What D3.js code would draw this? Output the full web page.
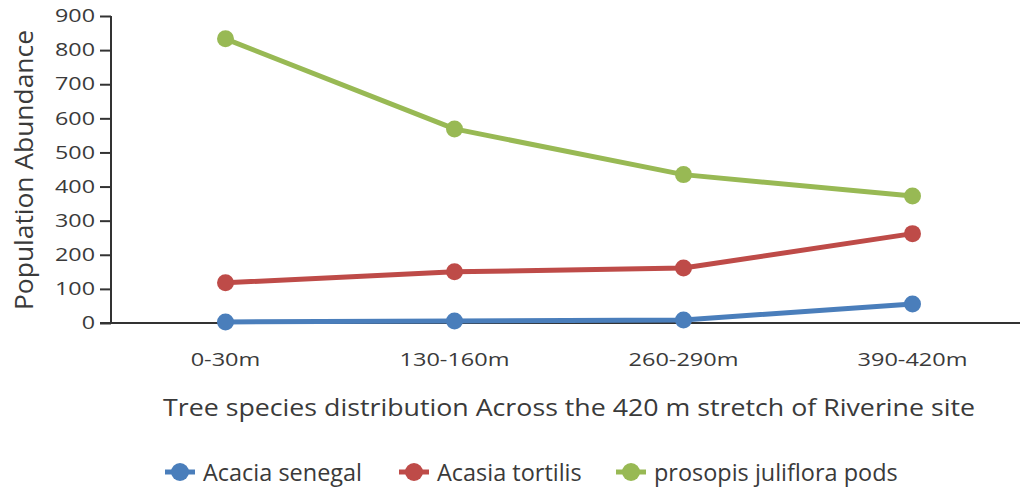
<!DOCTYPE html>
<html><head><meta charset="utf-8">
<script src="https://cdn.jsdelivr.net/npm/d3@7"></script>
<style>body{margin:0;background:#fff}svg{display:block}text{font-family:"Open Sans","DejaVu Sans",sans-serif;fill:#3a3a3a}</style>
</head><body><svg id="c" width="1020" height="491"></svg>
<script>
const categories = ["0-30m","130-160m","260-290m","390-420m"];
const seriesNames = ["Acacia senegal","Acasia tortilis","prosopis juliflora pods"];
const acaciaSenegal = [3, 6, 9, 56];
const acasiaTortilis = [118, 150, 161, 262];
const prosopisJuliflora = [833, 569, 435, 372];
const yTicks = [0,100,200,300,400,500,600,700,800,900];
const colors = ["#4a7ebb","#be4b48","#98b954"];

const svg = d3.select("#c");
const x = d3.scaleBand().domain(categories).range([111, 1027]);
const y = d3.scaleLinear().domain([0, 900]).range([323, 16]);

// stretch text horizontally so a reference string reaches a target width
function stretch(sel, refText, refWidth) {
  const nodes = sel.nodes();
  if (!nodes.length) return;
  const probe = svg.append("text").style("font-size", nodes[0].style.fontSize).text(refText);
  const f = refWidth / probe.node().getComputedTextLength();
  probe.remove();
  nodes.forEach(n => {
    const L = n.getComputedTextLength();
    n.setAttribute("textLength", L * f);
    n.setAttribute("lengthAdjust", "spacingAndGlyphs");
  });
}

const yAxis = svg.append("g").attr("transform","translate(111,0)")
  .call(d3.axisLeft(y).tickValues(yTicks).tickSize(11).tickPadding(5));
yAxis.select(".domain").attr("stroke","#333").attr("stroke-width",2).attr("d","M0,16V324");
yAxis.selectAll(".tick line").attr("stroke","#333").attr("stroke-width",2);
yAxis.selectAll("text").style("font-size","18px").attr("fill","#3a3a3a").attr("font-family",null);
stretch(yAxis.selectAll("text"), "900", 40);

const xAxis = svg.append("g").attr("transform","translate(0,323)")
  .call(d3.axisBottom(x).tickSize(0).tickPadding(24));
xAxis.select(".domain").attr("stroke","#333").attr("stroke-width",2).attr("d","M100,0H1027");
xAxis.selectAll("text").style("font-size","18px").attr("fill","#3a3a3a").attr("font-family",null).attr("dy","0.71em");
xAxis.selectAll("text").attr("y",30);
stretch(xAxis.selectAll("text"), "130-160m", 110);

const series = [acaciaSenegal, acasiaTortilis, prosopisJuliflora];
const cx = (d,i) => x(categories[i]) + x.bandwidth()/2;
const line = d3.line().x(cx).y(d=>y(d));
series.forEach((s,k)=>{
  svg.append("path").datum(s).attr("d",line).attr("fill","none")
    .attr("stroke",colors[k]).attr("stroke-width",5).attr("stroke-linejoin","round");
  svg.selectAll(null).data(s).enter().append("circle")
    .attr("cx",cx).attr("cy",d=>y(d)).attr("r",8.5).attr("fill",colors[k]);
});

const yt = svg.append("text").attr("transform","translate(33,170) rotate(-90)")
  .attr("text-anchor","middle").style("font-size","26px").text("Population Abundance");
stretch(yt, "Population Abundance", 280);

const tt = svg.append("text").attr("x",569).attr("y",416).attr("text-anchor","middle")
  .style("font-size","24px").text("Tree species distribution Across the 420 m stretch of Riverine site");
stretch(tt, "Tree species distribution Across the 420 m stretch of Riverine site", 812);

const legX = [180, 414, 631];
seriesNames.forEach((n,k)=>{
  const g = svg.append("g").attr("transform",`translate(${legX[k]},472)`);
  g.append("line").attr("x1",-15).attr("x2",15).attr("stroke",colors[k]).attr("stroke-width",5);
  g.append("circle").attr("r",9).attr("fill",colors[k]);
  const t = g.append("text").attr("x",23).attr("y",9).style("font-size","23px").text(n);
  stretch(t, "Acacia senegal", 159);
});
</script></body></html>
